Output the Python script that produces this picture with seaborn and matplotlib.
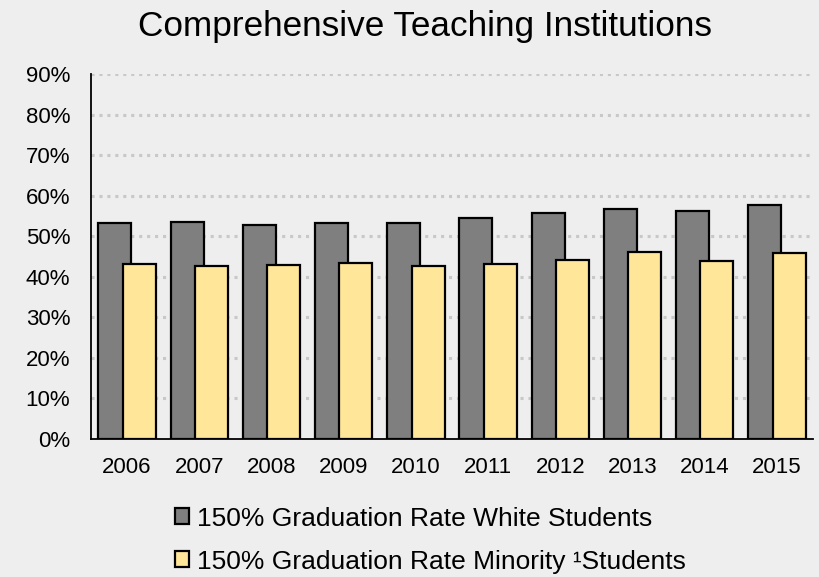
import matplotlib
matplotlib.use('Agg')
import matplotlib.pyplot as plt
import matplotlib.ticker as mticker
import numpy as np
import pandas as pd
import seaborn as sns

# values (fractions)
years = ['2006', '2007', '2008', '2009', '2010',
         '2011', '2012', '2013', '2014', '2015']
white_rate = [0.533, 0.535, 0.528, 0.532, 0.532,
              0.544, 0.556, 0.567, 0.562, 0.577]
minority_rate = [0.431, 0.426, 0.428, 0.433, 0.426,
                 0.431, 0.441, 0.460, 0.438, 0.459]
series_names = ['150% Graduation Rate White Students',
                '150% Graduation Rate Minority \u00b9Students']
series_colors = ['#7f7f7f', '#ffe699']

df = pd.DataFrame({
    'Year': years * 2,
    'Rate': white_rate + minority_rate,
    'Series': [series_names[0]] * len(years) + [series_names[1]] * len(years),
})

sns.set_theme(style='white')
plt.rcParams['font.family'] = ['Liberation Sans', 'DejaVu Sans']
plt.rcParams['text.color'] = 'black'
bg = '#eeeeee'

fig = plt.figure(figsize=(8.19, 5.77), dpi=100, facecolor=bg)
ax = fig.add_axes([0.1111, 0.2392, 0.8816, 0.6326], facecolor=bg)

sns.barplot(data=df, x='Year', y='Rate', hue='Series', order=years,
            hue_order=series_names, palette=series_colors, dodge=True,
            edgecolor='black', linewidth=1.6, saturation=1, errorbar=None,
            ax=ax, zorder=3)

# make the two bars of a year overlap a little, like the original
bar_w = 0.455
offset = 0.169
for i, cont in enumerate(ax.containers):
    sign = -1 if i == 0 else 1
    for j, patch in enumerate(cont):
        patch.set_width(bar_w)
        patch.set_x(j + sign * offset - bar_w / 2)

ax.set_xlim(-0.5, len(years) - 0.5)
ax.set_ylim(0, 0.9)
ax.set_yticks(np.arange(0, 0.91, 0.1))
ax.yaxis.set_major_formatter(mticker.PercentFormatter(1.0, decimals=0))
ax.set_xlabel('')
ax.set_ylabel('')

for y in np.arange(0.1, 0.91, 0.1):
    ax.axhline(y, color='#c8c8c8', linewidth=2.2,
               linestyle=(0, (1, 1.6)), zorder=1)

for side in ['top', 'right']:
    ax.spines[side].set_visible(False)
for side in ['left', 'bottom']:
    ax.spines[side].set_color('black')
    ax.spines[side].set_linewidth(1.3)

ax.tick_params(axis='y', length=0, labelsize=16, pad=15, colors='black')
ax.tick_params(axis='x', which='major', length=0, labelsize=16, pad=13,
               colors='black')
ax.set_xticks(np.arange(-0.5, len(years), 1.0), minor=True)
ax.tick_params(axis='x', which='minor', length=6, width=1.3,
               direction='out', color='black')

ax.set_title('Comprehensive Teaching Institutions', fontsize=25.3,
             color='black', pad=27, x=0.463)

handles, labels = ax.get_legend_handles_labels()
ax.legend(handles, labels, loc='upper center', bbox_to_anchor=(0.47, -0.135),
          ncol=1, frameon=False, fontsize=19, handlelength=0.55,
          handleheight=0.55, handletextpad=0.3, labelspacing=0.72,
          borderpad=0.2, labelcolor='black')

fig.savefig('out.png', dpi=100, facecolor=bg)
